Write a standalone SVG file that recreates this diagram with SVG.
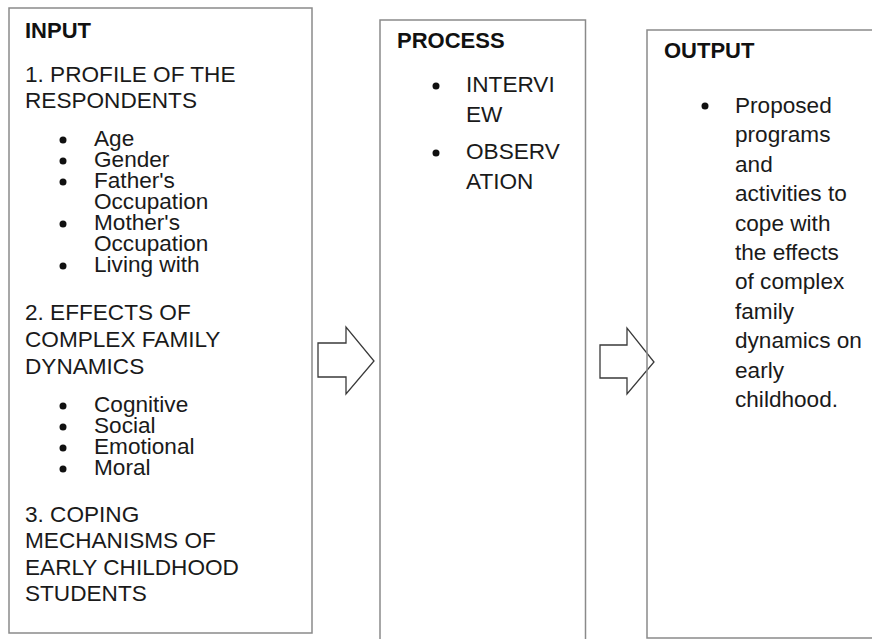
<svg xmlns="http://www.w3.org/2000/svg" width="872" height="639" viewBox="0 0 872 639">
<style>
.box{fill:none;stroke:#8a8a8a;stroke-width:1.5}
.t{font-family:"Liberation Sans",Arial,sans-serif;font-size:22.6px;fill:#1a1a1a}
.h{font-family:"Liberation Sans",Arial,sans-serif;font-size:22px;font-weight:bold;fill:#111}
.b{fill:#111}
.arr{fill:none;stroke:#3a3a3a;stroke-width:1.3;stroke-linejoin:miter}
</style>
<rect x="0" y="0" width="872" height="639" fill="#fff"/>
<g id="connectors">
<polygon class="arr" points="318,343 346,343 346,327 374,361 346,394 346,377 318,377"/>
<polygon class="arr" points="600,345 627,345 627,328 654,362 627,394 627,378 600,378"/>
</g>
<g id="input">
<rect class="box" x="9" y="8" width="303" height="625"/>
<text class="h" x="25" y="38">INPUT</text>
<text class="t" x="25" y="82">1. PROFILE OF THE</text>
<text class="t" x="25" y="108">RESPONDENTS</text>
<circle class="b" cx="63" cy="140" r="3.5"/>
<text class="t" x="94" y="146">Age</text>
<circle class="b" cx="63" cy="161" r="3.5"/>
<text class="t" x="94" y="167">Gender</text>
<circle class="b" cx="63" cy="182" r="3.5"/>
<text class="t" x="94" y="188">Father's</text>
<text class="t" x="94" y="209">Occupation</text>
<circle class="b" cx="63" cy="224" r="3.5"/>
<text class="t" x="94" y="230">Mother's</text>
<text class="t" x="94" y="251">Occupation</text>
<circle class="b" cx="63" cy="266" r="3.5"/>
<text class="t" x="94" y="272">Living with</text>
<text class="t" x="25" y="320">2. EFFECTS OF</text>
<text class="t" x="25" y="347">COMPLEX FAMILY</text>
<text class="t" x="25" y="374">DYNAMICS</text>
<circle class="b" cx="63" cy="406" r="3.5"/>
<text class="t" x="94" y="412">Cognitive</text>
<circle class="b" cx="63" cy="427" r="3.5"/>
<text class="t" x="94" y="433">Social</text>
<circle class="b" cx="63" cy="448" r="3.5"/>
<text class="t" x="94" y="454">Emotional</text>
<circle class="b" cx="63" cy="469" r="3.5"/>
<text class="t" x="94" y="475">Moral</text>
<text class="t" x="25" y="522">3. COPING</text>
<text class="t" x="25" y="548">MECHANISMS OF</text>
<text class="t" x="25" y="575">EARLY CHILDHOOD</text>
<text class="t" x="25" y="601">STUDENTS</text>
</g>
<g id="process">
<rect class="box" x="380" y="20" width="205.5" height="630"/>
<text class="h" x="397" y="48">PROCESS</text>
<circle class="b" cx="436" cy="86" r="3.5"/>
<text class="t" x="466" y="92">INTERVI</text>
<text class="t" x="466" y="122">EW</text>
<circle class="b" cx="436" cy="153" r="3.5"/>
<text class="t" x="466" y="159">OBSERV</text>
<text class="t" x="466" y="189">ATION</text>
</g>
<g id="output">
<rect class="box" x="647" y="30" width="240" height="608"/>
<text class="h" x="664" y="58">OUTPUT</text>
<circle class="b" cx="705" cy="106" r="3.5"/>
<text class="t" x="735" y="113">Proposed</text>
<text class="t" x="735" y="142">programs</text>
<text class="t" x="735" y="172">and</text>
<text class="t" x="735" y="201">activities to</text>
<text class="t" x="735" y="231">cope with</text>
<text class="t" x="735" y="260">the effects</text>
<text class="t" x="735" y="289">of complex</text>
<text class="t" x="735" y="319">family</text>
<text class="t" x="735" y="348">dynamics on</text>
<text class="t" x="735" y="378">early</text>
<text class="t" x="735" y="407">childhood.</text>
</g>
</svg>
